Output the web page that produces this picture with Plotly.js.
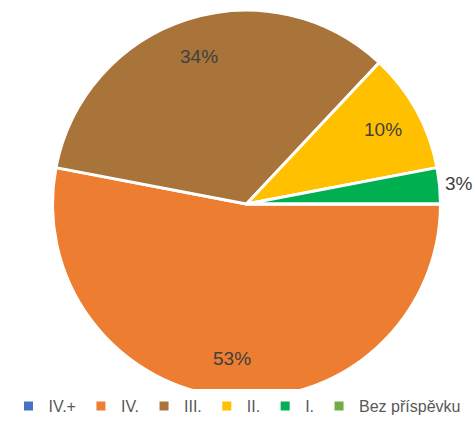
<!DOCTYPE html>
<html>
<head>
<meta charset="utf-8">
<script src="https://cdn.plot.ly/plotly-3.0.1.min.js"></script>
<style>html,body{margin:0;padding:0;background:#fff;}</style>
</head>
<body>
<div id="chart" style="width:474px;height:423px;"></div>
<script>
const categories = ["IV.+", "IV.", "III.", "II.", "I.", "Bez příspěvku"];
const values = [0, 53, 34, 10, 3, 0];
const colors = ["#4472C4", "#ED7D31", "#A9743A", "#FFC000", "#00B050", "#70AD47"];
const labelOutside = [false, false, false, false, true, false];

const FONT = "Liberation Sans, Arial, sans-serif";

const trace = {
  type: "pie",
  labels: categories,
  values: values,
  sort: false,
  direction: "clockwise",
  rotation: 90,
  marker: { colors: colors, line: { color: "#ffffff", width: 3 } },
  textinfo: "none",
  automargin: false,
  hoverinfo: "label+percent",
  showlegend: true
};

// percent labels positioned from the data (mid-angle of each slice)
const total = values.reduce((a, b) => a + b, 0);
const plotW = 474 - 19 - 0, plotH = 423 - 10 - 25;
const R = Math.min(plotW, plotH) / 2;
const annotations = [];
let cum = 0;
values.forEach((v, i) => {
  if (v <= 0) { return; }
  const mid = cum + v / 2;
  cum += v;
  const ang = (-360 * mid / total) * Math.PI / 180; // clockwise from 3 o'clock
  const f = labelOutside[i] ? 1.1 : 0.8;
  annotations.push({
    xref: "paper", yref: "paper",
    x: 0.5 + f * R * Math.cos(ang) / plotW,
    y: 0.5 + f * R * Math.sin(ang) / plotH,
    text: Math.round(100 * v / total) + "%",
    showarrow: false,
    xanchor: "center", yanchor: "middle",
    font: { family: FONT, size: 19, color: "#404040" }
  });
});

const layout = {
  width: 474,
  height: 423,
  margin: { l: 19, r: 0, t: 10, b: 25, autoexpand: false },
  paper_bgcolor: "#ffffff",
  showlegend: true,
  annotations: annotations,
  legend: {
    orientation: "h",
    x: 0.5, xanchor: "center", xref: "container",
    y: 0, yanchor: "bottom", yref: "container",
    font: { family: FONT, size: 16, color: "#595959" },
    traceorder: "normal"
  }
};

Plotly.newPlot("chart", [trace], layout, { displayModeBar: false, staticPlot: true });
</script>
</body>
</html>
